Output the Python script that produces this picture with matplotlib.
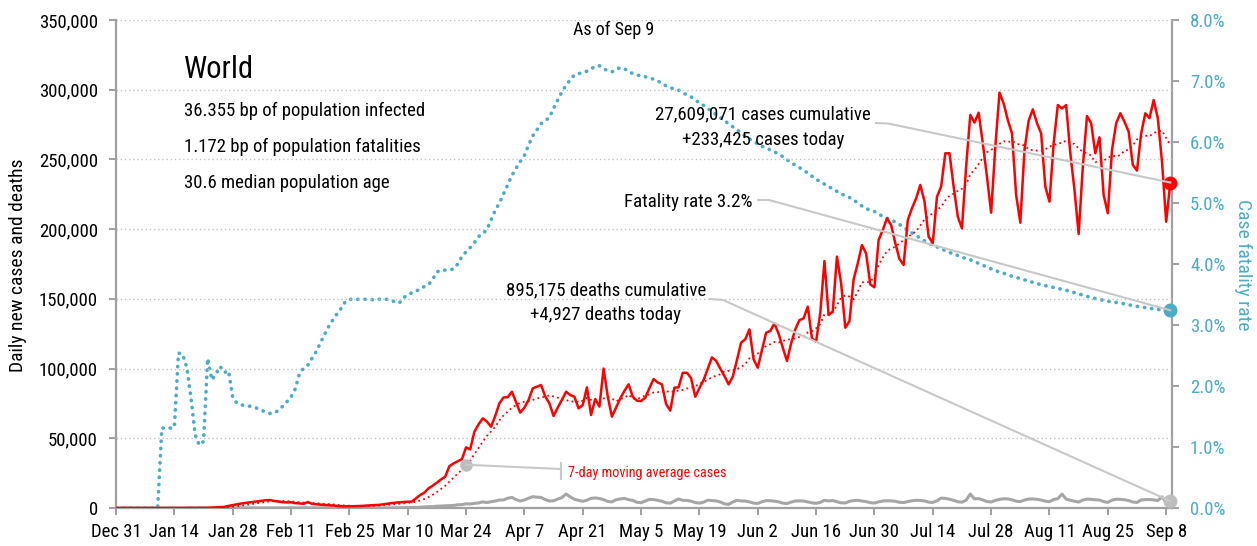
import matplotlib
matplotlib.use("Agg")
import matplotlib.pyplot as plt
import pandas as pd
from matplotlib import font_manager as fm
from matplotlib.lines import Line2D
from matplotlib.transforms import IdentityTransform

# ---------------- data ----------------
start_date = "2019-12-31"
tick_first, tick_last = "2019-12-31", "2020-09-08"
ma_label_date = "2020-03-24"

daily_cases = [
    27, 0, 0, 17, 0, 15, 0,
    0, 0, 0, 0, 0, 0, 1,
    1, 0, 4, 17, 136, 20, 153,
    142, 97, 266, 453, 673, 797, 1500,
    2100, 2600, 3200, 3600, 4000, 4400, 4800,
    5200, 5600, 5700, 5000, 4600, 4200, 4000,
    4100, 3500, 3300, 3000, 4300, 3000, 2700,
    2400, 2200, 2000, 1800, 1500, 1300, 1200,
    1200, 1300, 1400, 1500, 1700, 1900, 2100,
    2200, 2600, 3000, 3500, 3800, 4100, 4300,
    4500, 4600, 7000, 9300, 11000, 14100, 16000,
    18200, 20500, 22500, 30000, 32000, 33500, 35000,
    43500, 42000, 54700, 60000, 64300, 62000, 58300,
    66000, 75100, 79300, 79500, 83400, 76000, 68400,
    72000, 77500, 85800, 87000, 88200, 80000, 75100,
    66000, 72000, 77500, 83400, 81000, 79800, 71500,
    73800, 86500, 66700, 78200, 72700, 100000, 80000,
    65500, 72000, 78600, 84000, 88700, 79800, 77000,
    76700, 79100, 86000, 92500, 90000, 88700, 74600,
    69800, 86300, 86500, 97000, 97000, 93200, 79800,
    86000, 91800, 100000, 108000, 105600, 100000, 94700,
    88700, 94200, 106000, 118600, 121000, 128100, 106600,
    100600, 113300, 125700, 127000, 132400, 125000, 115000,
    105400, 118000, 128100, 134800, 136000, 144400, 121700,
    119300, 140000, 177100, 138400, 141000, 180300, 161200,
    129300, 134000, 164000, 175500, 188600, 182500, 160400,
    158300, 192200, 199400, 207800, 203000, 190000, 178600,
    174300, 206500, 215000, 222100, 231700, 220000, 194600,
    190000, 223300, 230500, 254400, 254400, 230500, 208900,
    200600, 245000, 281900, 276400, 283500, 261500, 237600,
    211800, 259100, 297900, 290200, 278200, 268700, 224500,
    204600, 256800, 277800, 285900, 276000, 268700, 230500,
    219700, 261500, 289000, 286600, 289000, 254400, 228100,
    196500, 244800, 281100, 276000, 254400, 265900, 224500,
    211400, 256800, 275900, 283100, 277000, 269900, 246000,
    242000, 268700, 283100, 279600, 292600, 279600, 248300,
    205300, 233425,
]

daily_deaths = [
    0, 0, 0, 0, 0, 0, 0,
    0, 0, 0, 0, 1, 0, 0,
    0, 0, 0, 1, 0, 1, 0,
    3, 11, 0, 9, 15, 25, 25,
    26, 26, 38, 43, 46, 45, 57,
    64, 66, 73, 73, 86, 89, 97,
    108, 97, 146, 121, 143, 142, 105,
    98, 136, 150, 70, 52, 29, 44,
    47, 35, 42, 31, 38, 31, 30,
    41, 45, 57, 65, 105, 98, 228,
    350, 450, 390, 600, 800, 950, 1000,
    1300, 1400, 1600, 1700, 1800, 2300, 2400,
    3000, 2900, 3300, 3600, 4400, 3900, 4500,
    5000, 5700, 5800, 7000, 7600, 6000, 5000,
    5800, 7000, 8100, 7800, 7600, 6000, 5000,
    5200, 6400, 7500, 10000, 8000, 6200, 5500,
    4800, 5600, 6900, 7200, 6800, 6000, 4700,
    4400, 5900, 6500, 6900, 6000, 5400, 4100,
    3800, 5000, 6200, 6000, 5500, 4800, 3700,
    3500, 5000, 6500, 5500, 5400, 4900, 3900,
    3500, 4200, 5600, 5300, 5100, 4300, 3000,
    2600, 4300, 5500, 5100, 5000, 4400, 3500,
    3300, 4500, 5300, 5200, 4900, 4400, 3500,
    3200, 4200, 5000, 5100, 5000, 4400, 3700,
    3400, 4000, 5500, 5100, 5300, 4500, 3700,
    3600, 4800, 5300, 5500, 5000, 4600, 3800,
    3600, 4400, 5000, 5200, 5100, 4800, 4100,
    3900, 4600, 5200, 5500, 5400, 5100, 4200,
    4000, 5200, 7100, 6900, 6300, 5500, 4500,
    4200, 5600, 10000, 6600, 6700, 5800, 4600,
    4300, 5400, 6200, 6600, 6500, 5900, 4900,
    4600, 5700, 6400, 6500, 6200, 5700, 4900,
    4500, 6100, 6700, 10000, 6300, 5600, 4800,
    4300, 5700, 6400, 6200, 5900, 5700, 4600,
    4000, 5600, 6300, 6200, 5900, 5300, 4300,
    4000, 5800, 6000, 6100, 5800, 5400, 8000,
    4000, 4927,
]

fatality_rate_pct = [
    0, 0, 0, 0, 0, 0, 0, 0, 0, 0,
    0,
    1.31, 1.31, 1.31, 1.32,
    2.54, 2.52, 2.3, 1.8, 1.2,
    1.03, 1.09, 2.45, 2.1, 2.2, 2.32, 2.22, 2.25, 1.82, 1.72,
    1.69, 1.68, 1.67, 1.66, 1.63, 1.6, 1.57, 1.55, 1.56, 1.6,
    1.67, 1.74, 1.82, 1.95, 2.2, 2.29, 2.34, 2.45, 2.56, 2.7,
    2.84, 2.97, 3.08, 3.18, 3.27, 3.38, 3.42, 3.42, 3.42, 3.43,
    3.42, 3.42, 3.41, 3.42, 3.43, 3.42, 3.4, 3.38, 3.36, 3.45,
    3.49, 3.53, 3.55, 3.6, 3.63, 3.66, 3.75, 3.87, 3.9, 3.9,
    3.9, 3.92, 4.0, 4.12, 4.2, 4.27, 4.35, 4.45, 4.5, 4.56,
    4.72, 4.88, 5.0, 5.15, 5.3, 5.45, 5.57, 5.68, 5.78, 5.95,
    6.1, 6.2, 6.3, 6.35, 6.4, 6.55, 6.69, 6.82, 6.93, 7.02,
    7.1, 7.12, 7.14, 7.16, 7.2, 7.24, 7.25, 7.2, 7.17, 7.15,
    7.19, 7.22, 7.2, 7.16, 7.12, 7.1, 7.08, 7.07, 7.05, 7.03,
    7.0, 6.96, 6.92, 6.89, 6.87, 6.85, 6.81, 6.77, 6.74, 6.69,
    6.64, 6.6, 6.55, 6.5, 6.45, 6.4, 6.35, 6.3, 6.25, 6.2,
    6.15, 6.1, 6.05, 6.01, 5.97, 5.93, 5.9, 5.87, 5.84, 5.8,
    5.76, 5.71, 5.66, 5.62, 5.58, 5.54, 5.49, 5.44, 5.39, 5.35,
    5.31, 5.27, 5.23, 5.19, 5.15, 5.12, 5.09, 5.05, 5.0, 4.95,
    4.91, 4.88, 4.86, 4.82, 4.78, 4.75, 4.72, 4.69, 4.65, 4.6,
    4.55, 4.51, 4.47, 4.42, 4.38, 4.34, 4.31, 4.28, 4.25, 4.22,
    4.19, 4.16, 4.14, 4.11, 4.09, 4.07, 4.04, 4.01, 3.98, 3.95,
    3.92, 3.89, 3.87, 3.85, 3.82, 3.8, 3.78, 3.76, 3.74, 3.72,
    3.7, 3.68, 3.66, 3.645, 3.63, 3.615, 3.6, 3.585, 3.57, 3.55,
    3.53, 3.51, 3.49, 3.47, 3.45, 3.435, 3.42, 3.405, 3.39, 3.38,
    3.37, 3.36, 3.345, 3.33, 3.32, 3.305, 3.295, 3.285, 3.275, 3.265,
    3.255, 3.25, 3.245, 3.242,
]

left_ticks = [0, 50000, 100000, 150000, 200000, 250000, 300000, 350000]
right_ticks = [0, 1, 2, 3, 4, 5, 6, 7, 8]

title_text = "World"
stats_lines = ["36.355 bp of population infected",
               "1.172 bp of population fatalities",
               "30.6 median population age"]
asof_text = "As of Sep 9"
cases_lines = ["27,609,071 cases cumulative", "+233,425 cases today"]
fatality_text = "Fatality rate 3.2%"
deaths_lines = ["895,175 deaths cumulative", "+4,927 deaths today"]
ma_text = "7-day moving average cases"
left_label = "Daily new cases and deaths"
right_label = "Case fatality rate"

# ---------------- fonts ----------------
avail = {f.name for f in fm.fontManager.ttflist}
family = "Roboto Condensed" if "Roboto Condensed" in avail else "Roboto"
plt.rcParams["font.family"] = [family, "DejaVu Sans"]

# ---------------- colours ----------------
RED = "#FF0000"
GRAY = "#A6A6A6"
BLUE = "#4BACC6"
AXIS = "#A0A0A0"
GRID = "#C4C4C4"
LEADER = "#C8C8C8"

W, H = 1257, 546
fig = plt.figure(figsize=(W / 100, H / 100), dpi=100)
ax = fig.add_axes([116 / W, 38 / H, (1172 - 116) / W, (508 - 20) / H])
ax2 = ax.twinx()
ax.set_zorder(ax2.get_zorder() + 1)
ax.patch.set_visible(False)

dates = pd.date_range(start_date, periods=len(daily_cases), freq="D")
ma7 = pd.Series(daily_cases).rolling(7, min_periods=1).mean()

ax2.plot(dates, fatality_rate_pct, color=BLUE, lw=2.6, linestyle=(0, (0.1, 1.9)),
         dash_capstyle="round", zorder=2)
ax.plot(dates, daily_deaths, color=GRAY, lw=2.2, zorder=3, solid_joinstyle="round")
ax.plot(dates, ma7, color=RED, lw=1.3, linestyle=(0, (1, 1.8)), zorder=4)
ax.plot(dates, daily_cases, color=RED, lw=1.8, zorder=5, solid_joinstyle="round")

xmax = dates[0] + pd.Timedelta(days=253.4)
ax.set_xlim(dates[0], xmax)
ax.set_ylim(left_ticks[0], left_ticks[-1])
ax2.set_ylim(right_ticks[0], right_ticks[-1])

tick_dates = pd.date_range(tick_first, tick_last, freq="14D")
ax.set_xticks(tick_dates)
ax.set_xticklabels([f"{d:%b} {d.day}" for d in tick_dates])
ax.set_yticks(left_ticks)
ax.set_yticklabels([f"{v:,.0f}" for v in left_ticks])
ax2.set_yticks(right_ticks)
ax2.set_yticklabels([f"{v:.1f}%" for v in right_ticks])

FS = 13.5
for a in (ax, ax2):
    for s in a.spines.values():
        s.set_visible(False)
ax.spines["left"].set_visible(True)
ax.spines["bottom"].set_visible(True)
ax2.spines["right"].set_visible(True)
for s in (ax.spines["left"], ax.spines["bottom"], ax2.spines["right"]):
    s.set_color(AXIS)
    s.set_linewidth(1.6)
ax.tick_params(axis="both", direction="out", length=5, width=1.4, color=AXIS,
               labelsize=FS, labelcolor="black")
ax.tick_params(axis="y", pad=8)
ax.tick_params(axis="x", pad=6)
ax2.tick_params(axis="y", direction="out", length=5, width=1.4, color=AXIS,
                labelsize=FS, labelcolor=BLUE, pad=8)
ax.yaxis.grid(True, linestyle=(0, (1, 2)), color=GRID, lw=1.0)
ax.set_axisbelow(True)


def ftext(x, y, s, **kw):
    return fig.text(x / W, 1 - y / H, s, **kw)


ftext(18, 265, left_label, rotation=90, ha="center", va="center", fontsize=14)
ftext(1243, 265, right_label, rotation=270, ha="center", va="center", fontsize=14,
      color=BLUE)

ftext(614, 30, asof_text, ha="center", va="center", fontsize=13)
ftext(184, 78, title_text, ha="left", va="baseline", fontsize=22)
for yb, s in zip([116.5, 152.5, 188], stats_lines):
    ftext(184, yb, s, ha="left", va="baseline", fontsize=13.5)

BODY = 13.6
ftext(763, 119, cases_lines[0], ha="center", va="baseline", fontsize=BODY)
ftext(763, 145, cases_lines[1], ha="center", va="baseline", fontsize=BODY)
ftext(752, 207, fatality_text, ha="right", va="baseline", fontsize=BODY)
ftext(606, 295, deaths_lines[0], ha="center", va="baseline", fontsize=BODY)
ftext(606, 320, deaths_lines[1], ha="center", va="baseline", fontsize=BODY)
ftext(568, 477, ma_text, ha="left", va="baseline", fontsize=10.3, color=RED)

# end-point markers
ax.plot([dates[-1]], [daily_cases[-1]], "o", color=RED, ms=9, clip_on=False, zorder=8)
ax.plot([dates[-1]], [daily_deaths[-1]], "o", color="#BDBDBD", ms=9, clip_on=False, zorder=8)
ax2.plot([dates[-1]], [fatality_rate_pct[-1]], "o", color=BLUE, ms=9, clip_on=False, zorder=8)
ma_idx = list(dates).index(pd.Timestamp(ma_label_date))
ax.plot([dates[ma_idx]], [ma7[ma_idx]], "o", color="#BDBDBD", ms=8, zorder=8)


def to_px(a, x, y):
    px, py = a.transData.transform((matplotlib.dates.date2num(x), y))
    return px, py


def leader(points):
    xs = [p[0] for p in points]
    ys = [p[1] for p in points]
    fig.add_artist(Line2D(xs, ys, transform=IdentityTransform(), color=LEADER,
                          lw=1.5, zorder=7))


def img(x, y):
    return (x, H - y)


leader([img(876, 123), img(888, 123.5), to_px(ax, dates[-1], daily_cases[-1])])
leader([img(758, 200), img(769, 200), to_px(ax2, dates[-1], fatality_rate_pct[-1])])
leader([img(710, 299), img(723, 300), to_px(ax, dates[-1], daily_deaths[-1])])
mx, my = to_px(ax, dates[ma_idx], ma7[ma_idx])
leader([(mx, my), img(561, 469)])
leader([img(561, 463), img(561, 479)])

fig.savefig("out.png", dpi=100)
